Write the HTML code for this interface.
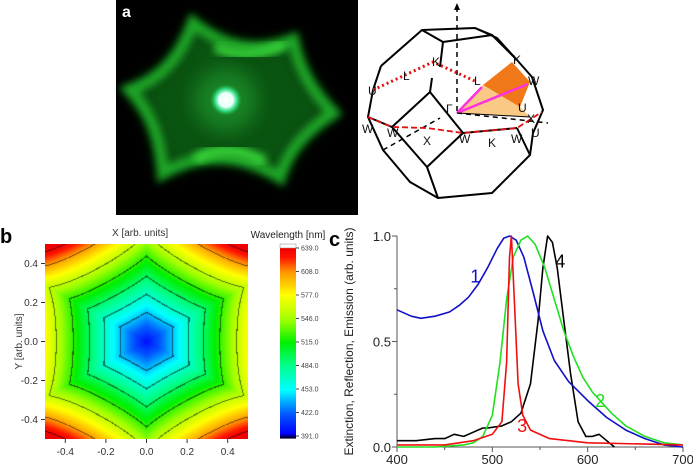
<!DOCTYPE html>
<html><head><meta charset="utf-8">
<style>
html,body{margin:0;padding:0;background:#fff;}
body{width:693px;height:466px;position:relative;overflow:hidden;font-family:"Liberation Sans",sans-serif;}
.abs{position:absolute;}
</style></head>
<body>
<!-- Panel a -->
<svg class="abs" style="left:0;top:0" width="693" height="225">
  <defs>
    <filter id="blur8" x="-40%" y="-40%" width="180%" height="180%"><feGaussianBlur stdDeviation="9"/></filter>
    <filter id="blur4" x="-30%" y="-30%" width="160%" height="160%"><feGaussianBlur stdDeviation="4"/></filter>
    <radialGradient id="spot"><stop offset="0" stop-color="#ffffff"/><stop offset="0.45" stop-color="#e8fff8"/><stop offset="0.7" stop-color="#40ffb0" stop-opacity="0.7"/><stop offset="1" stop-color="#20c040" stop-opacity="0"/></radialGradient>
  </defs>
  <rect x="116" y="0" width="242" height="215" fill="#000"/>
  <g>
    <path d="M193,23 Q240,62 293,40 Q300,80 333,113 Q290,140 280,177 Q220,140 163,173 Q160,120 130,90 Q175,75 193,23 Z" fill="#0b6a14" filter="url(#blur8)" opacity="0.8"/>
    <path d="M193,23 Q240,62 293,40 Q300,80 333,113 Q290,140 280,177 Q220,140 163,173 Q160,120 130,90 Q175,75 193,23 Z" fill="none" stroke="#1ea526" stroke-width="12" filter="url(#blur4)"/>
    <path d="M215,47 Q247,62 285,44" fill="none" stroke="#36d038" stroke-width="10" filter="url(#blur4)"/>
    <path d="M195,160 Q225,140 265,162" fill="none" stroke="#36d038" stroke-width="11" filter="url(#blur4)"/>
    <circle cx="226" cy="100" r="32" fill="#20a030" filter="url(#blur8)" opacity="0.6"/>
    <circle cx="226" cy="100" r="16" fill="url(#spot)"/>
  </g>
  <text x="122" y="17" font-size="16" font-weight="bold" fill="#fff">a</text>

  <g stroke-linejoin="round">
    <polygon points="483,85 512,62 530,82 520,107" fill="#f07818"/>
    <polygon points="457,113 483,85 520,107 530,117" fill="#f8c070" opacity="0.85"/>
    <polyline points="381,66 422,30 475,28 497,38 517,60 532,77 543,110 533,133 530,155 492,193 438,198 410,182 383,150 368,117 373,90 381,66" fill="none" stroke="#000" stroke-width="2"/>
    <polyline points="422,30 443,42 492,35 475,28" fill="none" stroke="#000" stroke-width="2"/>
    <line x1="443" y1="42" x2="440" y2="67" stroke="#000" stroke-width="2"/>
    <polyline points="432,78 430,92 392,127 427,167 463,133 430,92" fill="none" stroke="#000" stroke-width="2"/>
    <line x1="427" y1="167" x2="438" y2="198" stroke="#000" stroke-width="2"/>
    <line x1="463" y1="133" x2="517" y2="128" stroke="#000" stroke-width="2"/>
    <line x1="517" y1="128" x2="530" y2="155" stroke="#000" stroke-width="2"/>
    <line x1="392" y1="127" x2="368" y2="117" stroke="#000" stroke-width="2"/>
    <line x1="492" y1="35" x2="517" y2="60" stroke="#000" stroke-width="2"/>
    <line x1="457" y1="7" x2="457" y2="113" stroke="#000" stroke-width="1.5" stroke-dasharray="5,4"/>
    <polygon points="457,3 454,10 460,10" fill="#000"/>
    <line x1="457" y1="113" x2="548" y2="123" stroke="#000" stroke-width="1.5" stroke-dasharray="5,4"/>
    <line x1="383" y1="150" x2="440" y2="118" stroke="#000" stroke-width="1.5" stroke-dasharray="5,4"/>
    <polyline points="373,90 433,62 477,82" fill="none" stroke="#e01010" stroke-width="3" stroke-dasharray="2,3"/>
    <polyline points="368,117 392,127 427,128 463,133 517,128 542,112" fill="none" stroke="#e01010" stroke-width="1.8" stroke-dasharray="6,3"/>
    <line x1="457" y1="113" x2="482" y2="87" stroke="#ff30e0" stroke-width="2.5"/>
    <line x1="457" y1="113" x2="528" y2="84" stroke="#ff30e0" stroke-width="2.5"/>
    <line x1="457" y1="113" x2="530" y2="117" stroke="#000" stroke-width="1"/>
  </g>
  <g font-size="12" fill="#111">
    <text x="432" y="66">K</text><text x="403" y="80">L</text><text x="368" y="95">U</text>
    <text x="362" y="133">W</text><text x="387" y="137">W</text><text x="423" y="145">X</text>
    <text x="459" y="143">W</text><text x="488" y="147">K</text><text x="511" y="143">W</text>
    <text x="531" y="137">U</text><text x="527" y="123">X</text><text x="446" y="113">Γ</text>
    <text x="474" y="85">L</text><text x="513" y="64">K</text><text x="528" y="85">W</text><text x="518" y="112">U</text>
  </g>
</svg>

<!-- Panel b -->
<div class="abs" style="left:0;top:226px;font-size:20px;font-weight:bold;">b</div>
<div class="abs" style="left:112px;top:228px;font-size:10px;color:#333;">X [arb. units]</div>
<canvas id="heat" class="abs" style="left:45px;top:244px" width="203" height="195"></canvas>
<svg id="bax" class="abs" style="left:0;top:225px" width="340" height="241"></svg>

<!-- Panel c -->
<div class="abs" style="left:329px;top:229px;font-size:20px;font-weight:bold;">c</div>
<svg id="chart" class="abs" style="left:340px;top:225px" width="353" height="241"></svg>

<script>
// ---- Panel b: field & colorbar ----
var cbTicks = [639.0, 608.0, 577.0, 546.0, 515.0, 484.0, 453.0, 422.0, 391.0];
var axTicks = [-0.4, -0.2, 0.0, 0.2, 0.4];
var contourLevels = [0.13, 0.21, 0.29, 0.38, 0.48, 0.63, 0.73];
var stops=[[0,[0,0,48]],[0.02,[0,0,255]],[0.125,[0,90,255]],[0.25,[0,255,255]],[0.38,[0,255,140]],[0.5,[0,240,0]],[0.62,[160,255,0]],[0.75,[255,255,0]],[0.87,[255,150,0]],[0.95,[255,20,0]],[1,[240,0,0]]];
function cmap(t){t=Math.max(0,Math.min(1,t));for(var i=1;i<stops.length;i++){if(t<=stops[i][0]){var a=stops[i-1],b=stops[i];var f=(t-a[0])/(b[0]-a[0]);return [0,1,2].map(function(k){return Math.round(a[1][k]+(b[1][k]-a[1][k])*f);});}}return stops[stops.length-1][1];}
function hexf(x,y){var c=Math.cos(Math.PI/6);var h=Math.max(Math.abs(x),Math.abs(0.5*x+c*y),Math.abs(-0.5*x+c*y));var r=Math.sqrt(x*x+y*y);return h+3*r*r*(h-c*r);}
(function(){
 var cv=document.getElementById('heat');var ctx=cv.getContext('2d');var W=cv.width,H=cv.height;var img=ctx.createImageData(W,H);
 for(var j=0;j<H;j++)for(var i=0;i<W;i++){
  var x=-0.5+(i+0.5)/W, y=0.5-(j+0.5)/H;
  var f=hexf(x,y);var lam=400+325*f;var t=(lam-391)/(639-391);
  var c=cmap(t);
  for(var k=0;k<contourLevels.length;k++){if(Math.abs(f-contourLevels[k])<0.0032){c=c.map(function(v){return Math.round(v*0.45);});break;}}
  var p=(j*W+i)*4;img.data[p]=c[0];img.data[p+1]=c[1];img.data[p+2]=c[2];img.data[p+3]=255;}
 ctx.putImageData(img,0,0);
 var ns='http://www.w3.org/2000/svg';var s=document.getElementById('bax');
 function el(n,a){var e=document.createElementNS(ns,n);for(var k in a)e.setAttribute(k,a[k]);s.appendChild(e);return e;}
 var X0=45,X1=248,Y0=19,Y1=214;
 function sx(v){return X0+(v+0.5)*(X1-X0);} function sy(v){return Y1-(v+0.5)*(Y1-Y0);}
 axTicks.forEach(function(v){
  var t=el('line',{x1:sx(v),x2:sx(v),y1:Y1,y2:Y1+4,stroke:'#333'});
  
  
  var tx=el('text',{x:sx(v),y:Y1+16,'font-size':10,'text-anchor':'middle',fill:'#333'});tx.textContent=v.toFixed(1);
  
  
  var t2=el('line',{x1:X0-4,x2:X0,y1:sy(v),y2:sy(v),stroke:'#333'});
  
  
  var ty=el('text',{x:X0-7,y:sy(v)+3.5,'font-size':10,'text-anchor':'end',fill:'#333'});ty.textContent=v.toFixed(1);
  
  
 });
 var yl=el('text',{x:0,y:0,'font-size':10,fill:'#333','text-anchor':'middle',transform:'translate(22,'+((Y0+Y1)/2)+') rotate(-90)'});yl.textContent='Y [arb. units]';
 
 
 var CB0=19,CB1=213,cx=280,cw=16;
 var cbt=el('text',{x:288,y:13,'font-size':10,'text-anchor':'middle',fill:'#222'});cbt.textContent='Wavelength [nm]';
 
 
 for(var k=0;k<100;k++){var t=k/100;var c=cmap(t);var r=el('rect',{x:cx,y:CB1-(k+1)*(CB1-CB0-4)/100,width:cw,height:(CB1-CB0-4)/100+0.6,fill:'rgb('+c.join(',')+')'});
  
  }
 var wt=el('rect',{x:cx,y:CB0,width:cw,height:4,fill:'#fff',stroke:'#888','stroke-width':0.5});
 
 
 var Ytop=23,Ybot=211;
 cbTicks.forEach(function(v){var y=Ybot-(v-391)/(639-391)*(Ybot-Ytop);
  var l=el('line',{x1:cx+cw,x2:cx+cw+3,y1:y,y2:y,stroke:'#444'});
  
  
  var tx=el('text',{x:cx+cw+5,y:y+2.5,'font-size':7,fill:'#444'});tx.textContent=v.toFixed(1);
  
  });
})();

// ---- Panel c: spectra ----
var xTickLabels = [400, 500, 600, 700];
var yTickLabels = [0.0, 0.5, 1.0];
var blueX = [400,415,425,440,455,465,475,485,495,505,512,518,525,533,543,553,565,580,600,620,640,660,680,700];
var blueY = [0.65,0.62,0.61,0.62,0.64,0.67,0.71,0.77,0.85,0.94,0.99,1.0,0.98,0.9,0.73,0.55,0.41,0.31,0.22,0.14,0.08,0.04,0.01,0.0];
var greenX = [400,440,470,480,490,500,508,515,522,530,537,545,555,565,575,585,595,605,615,625,640,660,680,700];
var greenY = [0.0,0.0,0.01,0.02,0.05,0.15,0.4,0.7,0.9,0.98,1.0,0.96,0.85,0.7,0.55,0.43,0.33,0.26,0.21,0.16,0.1,0.05,0.02,0.01];
var redX = [400,450,480,500,510,515,518,520,523,527,532,540,560,600,700];
var redY = [0.01,0.01,0.03,0.06,0.12,0.4,0.9,1.0,0.7,0.3,0.15,0.08,0.04,0.02,0.01];
var blackX = [400,420,440,450,460,470,480,490,495,510,520,530,540,548,553,558,563,568,575,582,590,598,605,612,620,628];
var blackY = [0.03,0.03,0.04,0.04,0.06,0.05,0.07,0.09,0.09,0.1,0.12,0.16,0.3,0.6,0.85,1.0,0.97,0.85,0.6,0.35,0.12,0.05,0.05,0.06,0.03,0.0];
(function(){
 var ns='http://www.w3.org/2000/svg';var s=document.getElementById('chart');
 function el(n,a){var e=document.createElementNS(ns,n);for(var k in a)e.setAttribute(k,a[k]);s.appendChild(e);return e;}
 var PX0=57,PX1=343,PY0=11,PY1=222;
 function sx(v){return PX0+(v-400)/300*(PX1-PX0);} function sy(v){return PY1-v*(PY1-PY0);}
 var ax=el('path',{d:'M'+PX0+','+PY0+' V'+PY1+' H'+PX1,fill:'none',stroke:'#555','stroke-width':1});
 
 
 xTickLabels.forEach(function(v){
  var l=el('line',{x1:sx(v),x2:sx(v),y1:PY1,y2:PY1+5,stroke:'#555'});
  
  
  var t=el('text',{x:sx(v),y:PY1+17,'font-size':13,'text-anchor':'middle',fill:'#222'});t.textContent=v;
  
  
 });
 [450,550,650].forEach(function(v){var l=el('line',{x1:sx(v),x2:sx(v),y1:PY1,y2:PY1+3,stroke:'#555'});
  
  });
 yTickLabels.forEach(function(v){
  var l=el('line',{x1:PX0-5,x2:PX0,y1:sy(v),y2:sy(v),stroke:'#555'});
  
  
  var t=el('text',{x:PX0-6,y:sy(v)+5,'font-size':13,'text-anchor':'end',fill:'#222'});t.textContent=v.toFixed(1);
  
  
 });
 [0.25,0.75].forEach(function(v){var l=el('line',{x1:PX0-3,x2:PX0,y1:sy(v),y2:sy(v),stroke:'#555'});
  
  });
 var yl=el('text',{x:0,y:0,'font-size':12,fill:'#222','text-anchor':'middle',transform:'translate(13,'+((PY0+PY1)/2)+') rotate(-90)'});
 yl.textContent='Extinction, Reflection, Emission (arb. units)';
 
 
 function line(xs,ys,col,name){var d=xs.map(function(x,i){return (i?'L':'M')+sx(x).toFixed(1)+','+sy(ys[i]).toFixed(1);}).join(' ');
  var p=el('path',{d:d,fill:'none',stroke:col,'stroke-width':1.6,'stroke-linejoin':'round'});
  
  }
 line(blackX,blackY,'#000','series-4-black');
 line(blueX,blueY,'#1010c8','series-1-blue');
 line(greenX,greenY,'#20e020','series-2-green');
 line(redX,redY,'#f01010','series-3-red');
 function lab(txt,x,y,col,name){var t=el('text',{x:sx(x),y:sy(y),'font-size':18,fill:col});t.textContent=txt;
  
  }
 lab('1',477,0.78,'#1010c8','label-1');
 lab('2',608,0.19,'#20e020','label-2');
 lab('3',526,0.07,'#f01010','label-3');
 lab('4',566,0.85,'#000','label-4');
})();
</script>
</body></html>
